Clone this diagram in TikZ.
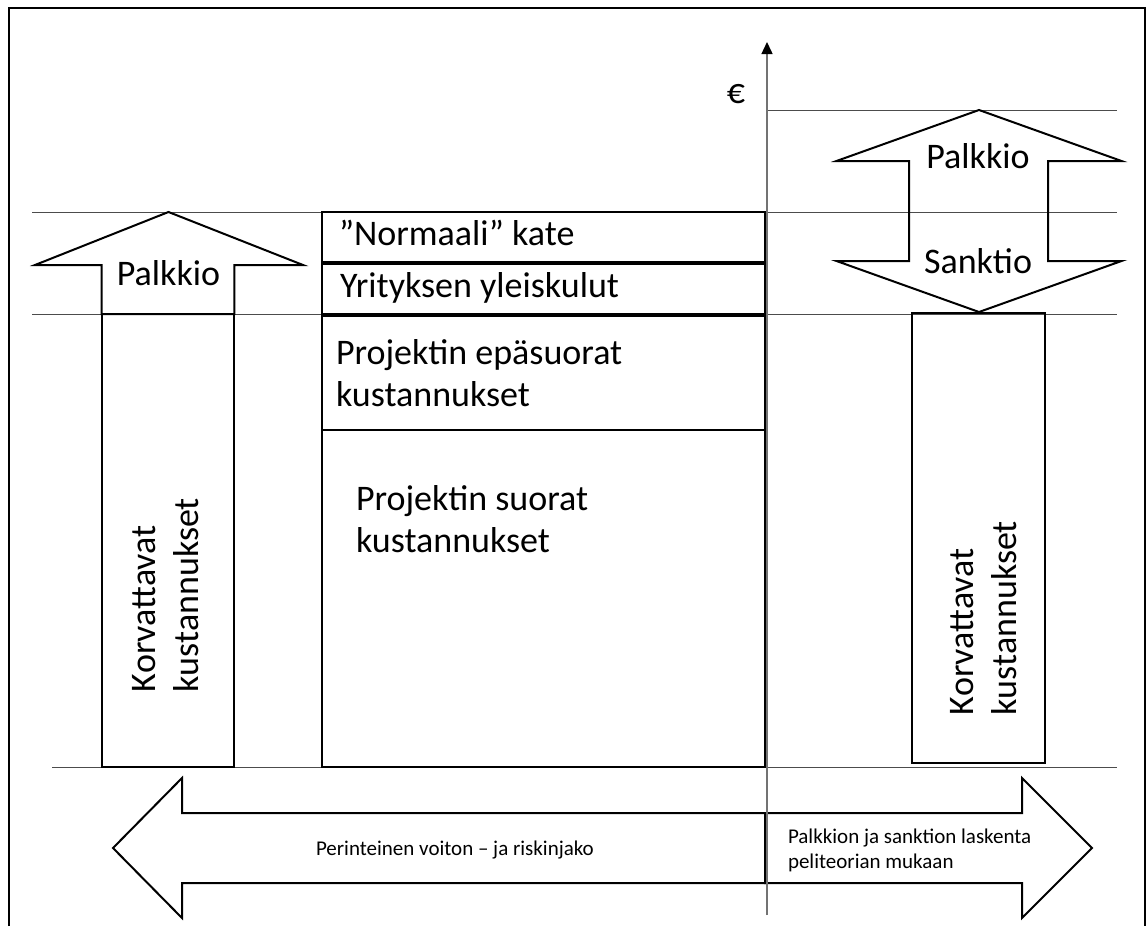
\documentclass[tikz,border=0pt]{standalone}
\usepackage{fontspec}
\setmainfont{Carlito}
\usetikzlibrary{arrows.meta}
\begin{document}
\begin{tikzpicture}[x=1pt,y=-1pt,
  guide/.style={draw=black!70, line width=1pt},
  outline/.style={draw=black, line width=2pt, line join=miter},
  axisline/.style={draw=black!55, line width=1.4pt},
  big/.style={font=\fontsize{36}{42}\selectfont, inner sep=0pt, outer sep=0pt},
  small/.style={font=\fontsize{21}{25}\selectfont, inner sep=0pt, outer sep=0pt, align=left}]
\useasboundingbox (0,0) rectangle (1147,926);
\fill[white] (0,0) rectangle (1147,926);

% outer frame, open at the bottom
\draw[line width=1.8pt] (9,926) -- (9,8) -- (1145,8) -- (1145,926);

% horizontal level lines
\draw[guide] (767,110) -- (1117,110);
\draw[guide] (32,212) -- (1117,212);
\draw[guide] (32,314) -- (1117,314);
\draw[guide] (52,767) -- (1117,767);

% cost stack in the middle
\draw[outline] (322,212) rectangle (765,262);
\draw[outline] (322,264) rectangle (765,314);
\draw[outline] (322,316) rectangle (765,430);
\draw[outline] (322,430) rectangle (765,767);

% reimbursable cost columns
\draw[outline] (101.7,314) rectangle (234.3,767);
\draw[outline] (912,313) rectangle (1045,763);

% bonus arrow on the left
\draw[outline] (101.7,314) -- (101.7,265) -- (35,265) -- (168.5,212)
  -- (303,265) -- (234.3,265) -- (234.3,314) -- cycle;

% bonus / sanction double arrow on the right
\draw[outline] (909,161) -- (836.5,161) -- (979,110) -- (1121.5,161)
  -- (1048,161) -- (1048,261) -- (1121.5,261) -- (979,312)
  -- (836.5,261) -- (909,261) -- cycle;

% bottom arrows
\draw[outline] (765,813) -- (182,813) -- (182,778) -- (113,848)
  -- (182,918) -- (182,883) -- (765,883) -- cycle;
\draw[outline] (765,813) -- (1022,813) -- (1022,778) -- (1092,848)
  -- (1022,918) -- (1022,883) -- (765,883) -- cycle;

% money axis
\coordinate (axbot) at (767,915);
\coordinate (axtop) at (767,42);
\draw[axisline, -{Triangle[length=12pt,width=11pt,color=black]}] (axbot) -- (axtop);
\node[big, anchor=base] (euro) at (736,103) {€};

% labels
\node[big, anchor=base] (palkkioL) at (168.5,285) {Palkkio};
\node[big, anchor=base] (palkkioR) at (978,168) {Palkkio};
\node[big, anchor=base] (sanktio) at (978,273) {Sanktio};

\node[big, anchor=base west] (kate) at (339,245) {”Normaali” kate};
\node[big, anchor=base west] (yleis) at (340,297) {Yrityksen yleiskulut};
% multi-line labels: the base anchor sits on the last line
\node[big, anchor=base west, align=left] (epasuorat) at (336,406)
  {Projektin epäsuorat\\kustannukset};
\node[big, anchor=base west, align=left] (suorat) at (356,552)
  {Projektin suorat\\kustannukset};

\node[big, rotate=90, anchor=base west] (korvL1) at (155,692) {Korvattavat};
\node[big, rotate=90, anchor=base west] (korvL2) at (198,692) {kustannukset};
\node[big, rotate=90, anchor=base west] (korvR1) at (973,715) {Korvattavat};
\node[big, rotate=90, anchor=base west] (korvR2) at (1016,715) {kustannukset};

\node[small, anchor=base west] (perinteinen) at (316,855) {Perinteinen voiton – ja riskinjako};
\node[small, anchor=base west] (peli) at (788,868) {Palkkion ja sanktion laskenta\\peliteorian mukaan};
\end{tikzpicture}
\end{document}
